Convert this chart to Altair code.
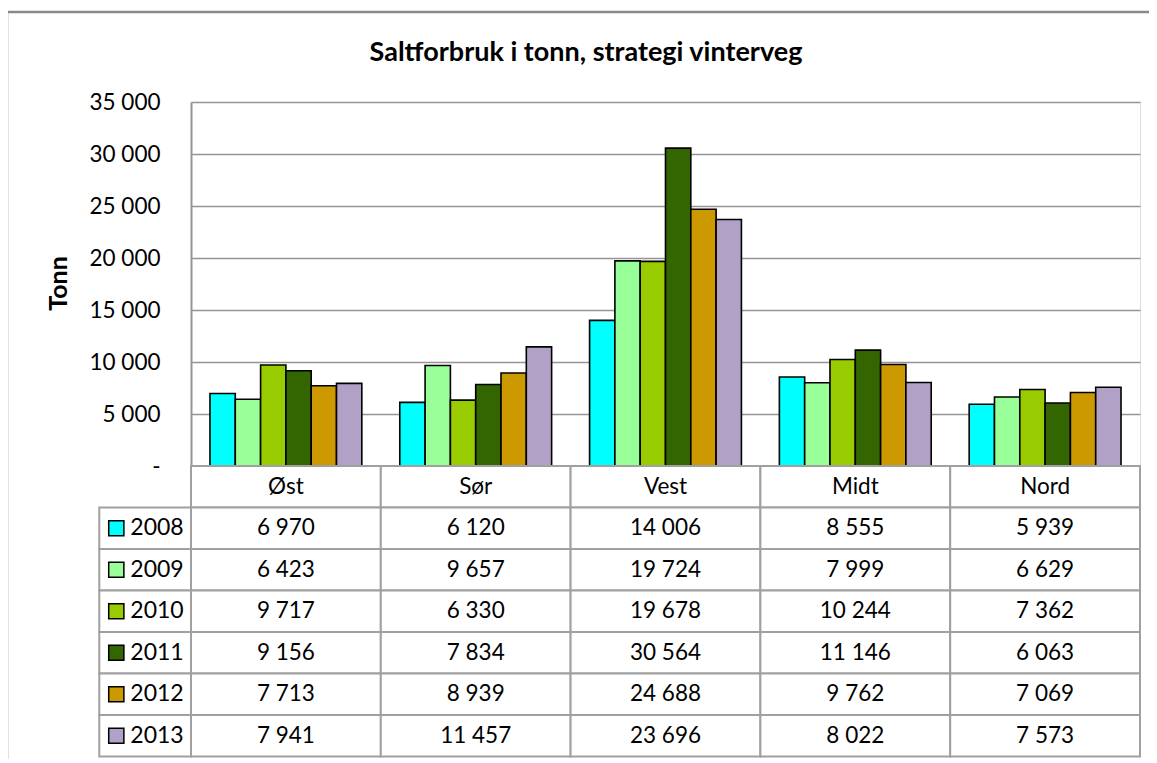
import altair as alt
import pandas as pd

# ---- data ----
regions = ["Øst", "Sør", "Vest", "Midt", "Nord"]
years = ["2008", "2009", "2010", "2011", "2012", "2013"]
v2008 = [6970, 6120, 14006, 8555, 5939]
v2009 = [6423, 9657, 19724, 7999, 6629]
v2010 = [9717, 6330, 19678, 10244, 7362]
v2011 = [9156, 7834, 30564, 11146, 6063]
v2012 = [7713, 8939, 24688, 9762, 7069]
v2013 = [7941, 11457, 23696, 8022, 7573]
colors = ["#00FFFF", "#99FF99", "#99CC00", "#336600", "#CC9900", "#B2A1C7"]
y_ticks = [0, 5000, 10000, 15000, 20000, 25000, 30000, 35000]
chart_title = ["Saltforbruk i tonn, strategi vinterveg"]
y_title = "Tonn"

series = [v2008, v2009, v2010, v2011, v2012, v2013]

# ---- layout ----
W, H = 949, 364
ROW = 41.5
NROWS = len(years) + 1
COLW = W / len(regions)
LEGW = 91.7 / COLW
NB = len(years)
BW = 0.8 / NB
FONT = "Lato"
GRID = "#959595"
TBL = "#a0a0a0"

rows = []
for yi, (yr, vals) in enumerate(zip(years, series)):
    for ri, (rg, v) in enumerate(zip(regions, vals)):
        rows.append({"region": rg, "ri": ri, "year": yr, "yi": yi, "value": v})
df = pd.DataFrame(rows)
df["bx0"] = df["ri"] + 0.1 + df["yi"] * BW
df["bx1"] = df["bx0"] + BW
df["c0"] = df["ri"]
df["c1"] = df["ri"] + 1
df["r0"] = df["yi"] + 1
df["r1"] = df["yi"] + 2
df["cx"] = df["ri"] + 0.5
df["cy"] = df["yi"] + 1.5

hdr = pd.DataFrame({"region": regions, "ri": range(len(regions))})
hdr["c0"] = hdr["ri"]
hdr["c1"] = hdr["ri"] + 1
hdr["r0"] = 0
hdr["r1"] = 1
hdr["cx"] = hdr["ri"] + 0.5
hdr["cy"] = 0.5

leg = pd.DataFrame({"year": years, "yi": range(len(years))})
leg["c0"] = -LEGW
leg["c1"] = 0
leg["r0"] = leg["yi"] + 1
leg["r1"] = leg["yi"] + 2
leg["cy"] = leg["yi"] + 1.5

xs = alt.Scale(domain=[0, len(regions)], nice=False, zero=False)
ts = alt.Scale(domain=[0, NROWS], range=[H, H + NROWS * ROW], nice=False, zero=False)
cscale = alt.Scale(domain=years, range=colors)

bars = alt.Chart(df).mark_rect(stroke="black", strokeWidth=1.6).encode(
    x=alt.X("bx0:Q", scale=xs, axis=None),
    x2="bx1:Q",
    y=alt.Y(
        "value:Q",
        scale=alt.Scale(domain=[0, 35000], nice=False),
        axis=alt.Axis(
            values=y_ticks,
            grid=True,
            gridColor=GRID,
            gridWidth=1.6,
            ticks=False,
            domain=True,
            domainColor=GRID,
            domainWidth=2,
            labelFont=FONT,
            labelFontSize=22.5,
            labelColor="black",
            labelPadding=31,
            labelExpr="datum.value == 0 ? '-' : replace(format(datum.value, ','), ',', ' ')",
            title=y_title,
            titleFont=FONT,
            titleFontSize=25,
            titleFontWeight="bold",
            titleColor="black",
            titleX=-133,
            titleY=181,
            titleAngle=270,
            titleAlign="center",
            titleBaseline="middle",
        ),
    ),
    y2=alt.datum(0),
    color=alt.Color("year:N", scale=cscale, legend=None),
)

def cells(data):
    return alt.Chart(data).mark_rect(fill="white", stroke=TBL, strokeWidth=2).encode(
        x=alt.X("c0:Q", scale=xs, axis=None),
        x2="c1:Q",
        y=alt.Y("r0:Q", scale=ts, axis=None),
        y2="r1:Q",
    )

hdr_text = alt.Chart(hdr).mark_text(font=FONT, fontSize=22.5, color="black", baseline="middle").encode(
    x=alt.X("cx:Q", scale=xs, axis=None),
    y=alt.Y("cy:Q", scale=ts, axis=None),
    text="region:N",
)

val_text = alt.Chart(df).transform_calculate(
    label="replace(format(datum.value, ','), ',', ' ')"
).mark_text(font=FONT, fontSize=22.5, color="black", baseline="middle").encode(
    x=alt.X("cx:Q", scale=xs, axis=None),
    y=alt.Y("cy:Q", scale=ts, axis=None),
    text="label:N",
)

leg_sym = alt.Chart(leg).mark_point(
    shape="square", filled=True, size=230, stroke="black", strokeWidth=1.5, opacity=1, xOffset=17
).encode(
    x=alt.X("c0:Q", scale=xs, axis=None),
    y=alt.Y("cy:Q", scale=ts, axis=None),
    fill=alt.Fill("year:N", scale=cscale, legend=None),
)

leg_text = alt.Chart(leg).mark_text(
    font=FONT, fontSize=23, color="black", baseline="middle", align="left", dx=31
).encode(
    x=alt.X("c0:Q", scale=xs, axis=None),
    y=alt.Y("cy:Q", scale=ts, axis=None),
    text="year:N",
)

frame = alt.Chart(pd.DataFrame({"f": [0]})).mark_rect(
    fill=None, fillOpacity=0, stroke="#8a8a8a", strokeWidth=2.5
).encode(
    x=alt.value(-184), x2=alt.value(W + 200), y=alt.value(-90), y2=alt.value(H + 500)
)

title = alt.Chart(pd.DataFrame({"t": chart_title})).mark_text(
    font=FONT, fontSize=27, fontWeight="bold", color="black", align="center", baseline="middle"
).encode(
    text="t:N", x=alt.value(395), y=alt.value(-49)
)

chart = alt.layer(
    frame, bars, cells(hdr), cells(df), cells(leg), hdr_text, val_text, leg_sym, leg_text, title
).resolve_scale(y="independent").properties(
    width=W,
    height=H,
    autosize=alt.AutoSizeParams(type="none"),
    padding={"left": 183, "top": 94, "right": 9, "bottom": 293},
).configure_view(stroke=None).configure(background="white")

chart.save("out.html", embed_options={"renderer": "svg", "actions": False})
